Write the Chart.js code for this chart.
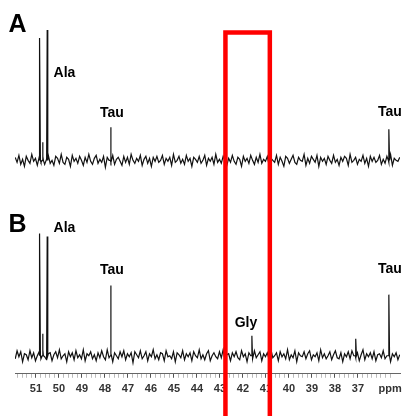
<!DOCTYPE html>
<html lang="en">
<head>
<meta charset="UTF-8">
<title>13C spectra A / B</title>
<script src="https://cdn.jsdelivr.net/npm/chart.js@4.4.0/dist/chart.umd.min.js"></script>
<style>
    html, body { margin: 0; padding: 0; background: #fff; }
    #wrap { width: 404px; height: 416px; position: relative; }
</style>
</head>
<body>
<div id="wrap"><canvas id="spec"></canvas></div>
<script>
const ppmStart = 51.9;
const ppmStep = 0.08;
const noiseA = [
    3,-2,5,-4,1,-6,4,0,-3,6,-1,2,-5,3,-2,4,-4,1,5,-3,
    0,-5,4,2,-3,6,-2,-4,3,1,-6,5,-1,2,-3,4,0,-5,3,-2,
    6,-1,-4,2,5,-3,1,-2,4,-7,3,0,-2,5,-4,1,3,-1,-5,4,
    -2,3,-4,6,0,-3,2,-1,5,-5,1,4,-3,2,-6,3,-1,4,-2,0,
    5,-4,2,-1,3,-5,6,-2,0,4,-3,1,-4,5,-1,2,-6,3,1,-2,
    4,-3,0,5,-5,2,-1,3,-4,6,-2,1,-3,4,0,-5,2,-2,5,-1,
    -4,3,1,-6,4,-1,2,-3,5,0,-4,3,-2,6,-3,1,-1,4,-5,2,
    0,-2,5,-4,3,-1,-6,4,2,-3,1,5,-2,-4,3,0,-1,6,-5,2,
    -3,4,1,-2,5,-6,3,-1,2,-4,4,0,-3,5,-2,1,-5,3,-1,4,
    2,-5,6,-2,0,3,-4,1,-1,5,-3,2,-6,4,-1,3,-2,0,5,-4,
    1,-3,4,-2,6,-5,2,0,-1,3
];
const noiseB = [
    -3,5,-1,4,-6,2,1,-4,5,-2,3,-5,0,4,-3,6,-1,-4,2,3,
    -5,1,4,-2,6,-3,0,2,-6,4,-1,3,-4,5,-2,1,-3,6,-5,2,
    0,4,-3,1,-5,3,-2,5,-1,-4,6,-2,2,-6,3,0,-3,4,-1,5,
    -4,2,-1,3,-7,4,1,-2,5,-3,0,4,-5,2,-1,6,-3,1,-4,3,
    2,-5,5,-1,0,-3,4,-6,3,1,-2,5,-4,2,-1,3,-5,4,0,-2,
    6,-3,1,-4,2,5,-5,0,3,-1,-3,4,-2,6,-4,1,2,-5,3,-1,
    4,-2,-4,5,-1,2,-6,3,0,-3,5,-2,1,4,-5,2,-1,3,-4,6,
    -2,0,3,-5,4,-1,2,-3,6,-4,1,-2,5,-6,3,0,-1,4,-3,2,
    5,-4,1,-1,3,-5,6,-2,2,-3,0,4,-4,1,5,-2,-3,3,-6,2,
    -1,4,-3,5,0,-2,3,-5,1,6,-4,2,-1,3,-3,4,-5,1,2,-2,
    5,-3,0,4,-6,2,-1,3,-4,1
];

// peaks: chemical shift and height above baseline in each spectrum
const peakPpm = [50.83, 50.70, 50.51, 47.74, 41.61, 37.09, 35.65];
const peakA   = [122, 18, 130, 33, 0, 0, 31];
const peakB   = [122, 22, 119, 70, 20, 17, 61];

const tickValues = [51, 50, 49, 48, 47, 46, 45, 44, 43, 42, 41, 40, 39, 38, 37];
const axisUnit = 'ppm';

const baseA = 213;   // vertical offset of spectrum A
const baseB = 18;    // vertical offset of spectrum B

function buildSpectrum(noise, heights, base) {
    const pts = noise.map((v, i) => ({ x: ppmStart - i * ppmStep, y: base + v }));
    peakPpm.forEach((p, k) => {
        if (!heights[k]) return;
        pts.push({ x: p + 0.025, y: base }, { x: p, y: base + heights[k] }, { x: p - 0.025, y: base });
    });
    pts.sort((a, b) => b.x - a.x);
    return pts;
}

const notes = [
    { t: 'A',   x: 51.80, y: 348, big: true },
    { t: 'B',   x: 51.80, y: 148, big: true },
    { t: 'Ala', x: 49.76, y: 300 },
    { t: 'Tau', x: 47.70, y: 260 },
    { t: 'Tau', x: 35.61, y: 261 },
    { t: 'Ala', x: 49.76, y: 145 },
    { t: 'Tau', x: 47.70, y: 103 },
    { t: 'Tau', x: 35.61, y: 104 },
    { t: 'Gly', x: 41.87, y: 51 }
];

const overlay = {
    id: 'overlay',
    afterDraw(chart) {
        const ctx = chart.ctx;
        const xs = chart.scales.x, ys = chart.scales.y;
        ctx.save();
        ctx.fillStyle = '#000';
        ctx.textAlign = 'center';
        ctx.textBaseline = 'middle';
        notes.forEach(n => {
            ctx.font = n.big ? 'bold 25px "Liberation Sans", Arial' : 'bold 14px "Liberation Sans", Arial';
            ctx.fillText(n.t, xs.getPixelForValue(n.x), ys.getPixelForValue(n.y));
        });
        // unit label in place of the last tick
        ctx.font = 'bold 11px "Liberation Sans", Arial';
        ctx.fillStyle = '#333';
        ctx.fillText(axisUnit, xs.getPixelForValue(35.6), chart.chartArea.bottom + 15);

        // red highlight box
        const l = xs.getPixelForValue(42.76), r = xs.getPixelForValue(40.83);
        ctx.strokeStyle = '#ff0000';
        ctx.lineWidth = 4.5;
        ctx.strokeRect(l, 32.5, r - l, 420);
        ctx.restore();
    }
};

const allTicks = [];
for (let v = 51.8; v >= 35.4; v -= 0.2) allTicks.push({ value: Math.round(v * 10) / 10 });

new Chart(document.getElementById('spec'), {
    type: 'line',
    data: {
        datasets: [
            { data: buildSpectrum(noiseA, peakA, baseA), borderColor: '#111', borderWidth: 1.2, pointRadius: 0, tension: 0 },
            { data: buildSpectrum(noiseB, peakB, baseB), borderColor: '#111', borderWidth: 1.2, pointRadius: 0, tension: 0 }
        ]
    },
    options: {
        responsive: true,
        maintainAspectRatio: false,
        animation: false,
        layout: { padding: { left: 15, right: 4, top: 0, bottom: 15 } },
        plugins: { legend: { display: false }, tooltip: { enabled: false } },
        scales: {
            x: {
                type: 'linear',
                reverse: true,
                min: 35.17,
                max: 51.91,
                afterBuildTicks: s => { s.ticks = allTicks.map(t => ({ value: t.value })); },
                ticks: {
                    autoSkip: false,
                    maxRotation: 0,
                    padding: 5,
                    color: '#333',
                    font: { family: '"Liberation Sans", Arial', size: 11, weight: 'bold' },
                    callback: v => tickValues.includes(v) ? String(v) : ''
                },
                grid: {
                    drawOnChartArea: false,
                    drawTicks: true,
                    tickLength: 4,
                    tickColor: c => tickValues.includes(c.tick && c.tick.value) ? '#555' : '#bbb'
                },
                border: { display: true, color: '#666', width: 1 }
            },
            y: { display: false, min: 0, max: 373 }
        }
    },
    plugins: [overlay]
});
</script>
</body>
</html>
